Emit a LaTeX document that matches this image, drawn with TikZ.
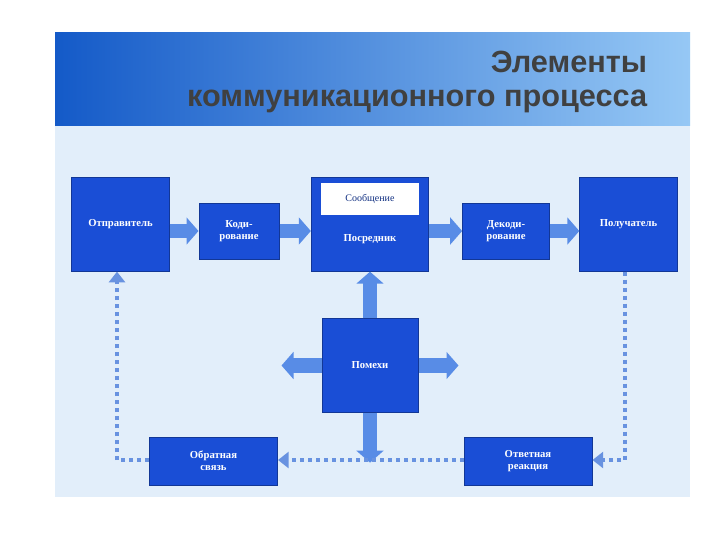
\documentclass[tikz,border=0pt]{standalone}
\usepackage{fontspec}
\setmainfont{Liberation Serif}
\newfontfamily\titlefont{Liberation Sans}
\usetikzlibrary{arrows.meta}
\definecolor{boxblue}{RGB}{26,78,214}
\definecolor{arrowblue}{RGB}{88,140,230}
\definecolor{dotblue}{RGB}{104,146,224}
\definecolor{bodyblue}{RGB}{226,238,250}
\definecolor{headdark}{RGB}{20,90,200}
\definecolor{headlight}{RGB}{150,200,245}
\tikzset{every picture/.style={line width=0.75pt}}
\tikzset{
  blk/.style={fill=boxblue, draw=boxblue!70!black, text=white, font=\bfseries\fontsize{8}{9}\selectfont, align=center, inner sep=0pt},
  fat/.style={arrowblue, line width=11pt, -{Triangle[length=9pt,width=20pt]}},
  dots/.style={dotblue, line width=3pt, dash pattern=on 3pt off 3pt, -{Triangle[length=8pt,width=12pt]}}
}
\begin{document}
\begin{tikzpicture}[x=0.75pt,y=0.75pt,yscale=-1,xscale=1]
\useasboundingbox (0,0) rectangle (720,540);
\fill[white] (0,0) rectangle (720,540);
%Slide background
\fill[bodyblue] (55,125) rectangle (690,497);
\shade[left color=headdark, right color=headlight] (55,32) rectangle (690,125);
% Title
\node[anchor=east, text=black!75, font=\titlefont\bfseries\fontsize{23}{25}\selectfont] (title1) at (652,62) {Элементы};
\node[anchor=east, text=black!75, font=\titlefont\bfseries\fontsize{23}{25}\selectfont] (title2) at (652,101) {коммуникационного процесса};

% Blocks
\node[blk, minimum width=73pt, minimum height=70pt] (sender) at (120.5,224.5) {Отправитель};
\node[blk, minimum width=60pt, minimum height=42pt] (coding) at (239,231) {Коди-\\рование};
\node[blk, minimum width=88pt, minimum height=70pt] (medium) at (370,224.5) {};
\node[text=white, font=\bfseries\fontsize{8}{9}\selectfont, inner sep=0pt] (mediumlabel) at (370,239) {Посредник};
\node[fill=white, text=boxblue!60!black, font=\fontsize{7.5}{8}\selectfont, minimum width=73pt, minimum height=24pt, inner sep=0pt] (message) at (370,199) {Сообщение};
\node[blk, minimum width=65pt, minimum height=42pt] (decoding) at (506,231) {Декоди-\\рование};
\node[blk, minimum width=73pt, minimum height=70pt] (receiver) at (628.5,224.5) {Получатель};
\node[blk, minimum width=72pt, minimum height=70pt] (noise) at (370,365.5) {Помехи};
\node[blk, minimum width=96pt, minimum height=36pt] (feedback) at (213.5,461) {Обратная\\связь};
\node[blk, minimum width=96pt, minimum height=36pt] (response) at (528,461) {Ответная\\реакция};

% Fat arrows
\draw[fat] (sender.east |- coding) -- (coding.west);
\draw[fat] (coding.east) -- (medium.west |- coding);
\draw[fat] (medium.east |- decoding) -- (decoding.west);
\draw[fat] (decoding.east) -- (receiver.west |- decoding);
\draw[fat] (noise.north) -- (medium.south);
\draw[fat] (noise.south) -- ++(0,50);
\draw[fat] (noise.west) -- ++(-40,0);
\draw[fat] (noise.east) -- ++(40,0);

% Dotted feedback loop
\coordinate (rc) at (625,460);
\coordinate (sc) at (117,460);
\draw[dots] (receiver.south -| rc) -- (rc) -- (response.east |- rc);
\draw[dots] (response.west |- rc) -- (feedback.east |- rc);
\draw[dots] (feedback.west |- sc) -- (sc) -- (sender.south -| sc);
\end{tikzpicture}
\end{document}
